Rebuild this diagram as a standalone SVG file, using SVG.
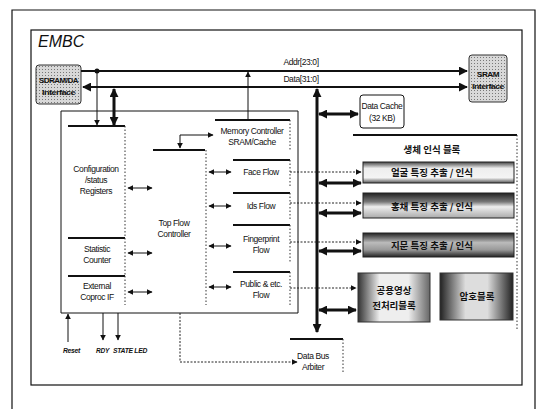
<svg xmlns="http://www.w3.org/2000/svg" width="537" height="409" viewBox="0 0 537 409">
<defs>
<style>
.t{font-family:"Liberation Sans",Arial,sans-serif;font-size:8.5px;letter-spacing:-0.4px;fill:#111;text-anchor:middle}
.tb{font-family:"Liberation Sans",Arial,sans-serif;font-size:8px;letter-spacing:-0.5px;font-weight:bold;fill:#111;text-anchor:middle}
.ti{font-family:"Liberation Sans",Arial,sans-serif;font-size:7px;letter-spacing:-0.3px;font-style:italic;font-weight:bold;fill:#111;text-anchor:start}
.k{font-family:"Noto Sans CJK KR",sans-serif;font-weight:bold;font-size:9.5px;fill:#111;text-anchor:middle}
.frame{fill:none;stroke:#111;stroke-width:1.2}
.top{stroke:#111;stroke-width:1.8;fill:none}
.dot{stroke:#333;stroke-width:1;stroke-dasharray:1.5 2;fill:none}
.thin{stroke:#111;stroke-width:1;fill:none}
.bus{stroke:#111;stroke-width:2.2;fill:none}
.thick{stroke:#111;stroke-width:3;fill:none}
.dash{stroke:#222;stroke-width:1;stroke-dasharray:2 1.5;fill:none}
</style>
<marker id="a" viewBox="0 0 10 10" refX="9" refY="5" markerWidth="6" markerHeight="6" markerUnits="userSpaceOnUse" orient="auto-start-reverse"><path d="M0,0L10,5L0,10z" fill="#111"/></marker>
<marker id="ab" viewBox="0 0 10 10" refX="9" refY="5" markerWidth="9" markerHeight="9" markerUnits="userSpaceOnUse" orient="auto-start-reverse"><path d="M0,0L10,5L0,10z" fill="#111"/></marker>
<pattern id="halftone" width="3" height="3" patternUnits="userSpaceOnUse"><rect width="3" height="3" fill="#d8d8d8"/><rect width="1" height="1" fill="#777"/></pattern>
<linearGradient id="g1" x1="0" y1="0" x2="0" y2="1"><stop offset="0" stop-color="#444"/><stop offset="0.3" stop-color="#eee"/><stop offset="0.75" stop-color="#f4f4f4"/><stop offset="1" stop-color="#555"/></linearGradient>
<linearGradient id="g2" x1="0" y1="0" x2="0" y2="1"><stop offset="0" stop-color="#222"/><stop offset="0.35" stop-color="#777"/><stop offset="0.55" stop-color="#eee"/><stop offset="1" stop-color="#aaa"/></linearGradient>
<linearGradient id="g3" x1="0" y1="0" x2="0" y2="1"><stop offset="0" stop-color="#222"/><stop offset="0.4" stop-color="#bbb"/><stop offset="0.7" stop-color="#999"/><stop offset="1" stop-color="#222"/></linearGradient>
<linearGradient id="g4" x1="0" y1="0" x2="1" y2="0"><stop offset="0" stop-color="#333"/><stop offset="0.3" stop-color="#eee"/><stop offset="0.7" stop-color="#eee"/><stop offset="1" stop-color="#666"/></linearGradient>
<linearGradient id="g5" x1="0" y1="0" x2="1" y2="0"><stop offset="0" stop-color="#222"/><stop offset="0.35" stop-color="#ddd"/><stop offset="0.65" stop-color="#ddd"/><stop offset="1" stop-color="#222"/></linearGradient>
</defs>
<rect width="537" height="409" fill="#fff"/>
<g id="outer-frame"><path class="frame" d="M12,420V10H535V420"/></g>
<g id="embc"><rect class="frame" x="31" y="30" width="491" height="355"/><text x="38" y="47" font-family="Liberation Sans,Arial,sans-serif" font-size="16" font-style="italic" fill="#111">EMBC</text></g>

<g id="sdram"><rect x="36" y="65" width="45" height="39" rx="3" fill="url(#halftone)" stroke="#333" stroke-width="1"/><text class="tb" x="58.5" y="83" textLength="39" lengthAdjust="spacingAndGlyphs">SDRAM/DA</text><text class="tb" x="58.5" y="95" textLength="33" lengthAdjust="spacingAndGlyphs">Interface</text></g>
<g id="sram"><rect x="469" y="55" width="38" height="47" rx="3" fill="url(#halftone)" stroke="#333" stroke-width="1"/><text class="tb" x="488" y="77" textLength="22" lengthAdjust="spacingAndGlyphs">SRAM</text><text class="tb" x="488" y="89" textLength="32" lengthAdjust="spacingAndGlyphs">Interface</text></g>
<g id="data-cache"><rect x="360" y="95" width="44" height="33" rx="3" fill="#fff" stroke="#111" stroke-width="1"/><text class="t" x="382" y="109">Data Cache</text><text class="t" x="382" y="121">(32 KB)</text></g>

<g id="main-block"><path class="thin" d="M61,111H298V313H61Z" stroke-width="1.3"/></g>
<g id="config"><path class="top" d="M68,126H125"/><path class="dot" d="M125,126V238"/><text class="t" x="96" y="172">Configuration</text><text class="t" x="96" y="183">/status</text><text class="t" x="96" y="194">Registers</text></g>
<g id="statistic"><path class="top" d="M68,238H125"/><path class="dot" d="M125,238V275"/><text class="t" x="97" y="252">Statistic</text><text class="t" x="97" y="263">Counter</text></g>
<g id="coproc"><path class="top" d="M68,276H125"/><path class="dot" d="M125,276V305"/><text class="t" x="97" y="289">External</text><text class="t" x="97" y="300">Coproc IF</text></g>
<g id="top-flow"><path class="top" d="M153,150H205"/><path class="dot" d="M206,150V305"/><text class="t" x="174" y="226">Top Flow</text><text class="t" x="174" y="237">Controller</text></g>
<g id="memctrl"><path class="top" d="M215,120H290"/><path class="dot" d="M290,120V150"/><text class="t" x="252" y="134">Memory Controller</text><text class="t" x="252" y="145">SRAM/Cache</text></g>
<g id="face-flow"><path class="top" d="M233,160H290"/><path class="dot" d="M290,160V188"/><text class="t" x="261" y="175">Face Flow</text></g>
<g id="ids-flow"><path class="top" d="M233,193H290"/><path class="dot" d="M290,193V220"/><text class="t" x="261" y="209">Ids Flow</text></g>
<g id="fingerprint-flow"><path class="top" d="M233,225H290"/><path class="dot" d="M290,225V262"/><text class="t" x="261" y="242">Fingerprint</text><text class="t" x="261" y="253">Flow</text></g>
<g id="public-flow"><path class="top" d="M233,272H290"/><path class="dot" d="M290,272V305"/><text class="t" x="261" y="287">Public &amp; etc.</text><text class="t" x="261" y="298">Flow</text></g>
<g id="arbiter"><path class="top" d="M290,339H343"/><path class="dot" d="M343,339V373"/><text class="t" x="313" y="359">Data Bus</text><text class="t" x="313" y="370">Arbiter</text></g>

<g id="bio-block"><path class="top" d="M353,135H517"/><path class="dot" d="M517,135V330"/><text class="k" x="432" y="153" font-size="12.5">생체 인식 블록</text></g>
<g id="face-rec"><rect x="363" y="162" width="151" height="21" fill="url(#g1)" stroke="#222" stroke-width="1"/><text class="k" x="432" y="176">얼굴 특징 추출 / 인식</text></g>
<g id="iris-rec"><rect x="363" y="193" width="151" height="25" fill="url(#g2)" stroke="#222" stroke-width="1"/><text class="k" x="432" y="210">홍채 특징 추출 / 인식</text></g>
<g id="finger-rec"><rect x="363" y="233" width="151" height="24" fill="url(#g3)" stroke="#222" stroke-width="1"/><text class="k" x="432" y="249">지문 특징 추출 / 인식</text></g>
<g id="preproc"><rect x="358" y="273" width="72" height="49" fill="url(#g4)" stroke="#333" stroke-width="1"/><text class="k" x="394" y="294" font-size="9">공용영상</text><text class="k" x="394" y="309" font-size="9">전처리블록</text></g>
<g id="crypto"><rect x="440" y="273" width="73" height="47" fill="url(#g5)" stroke="#333" stroke-width="1"/><text class="k" x="477" y="300">암호블록</text></g>

<g id="connectors">
<path class="bus" d="M81,71H467" marker-end="url(#ab)"/>
<text class="t" x="301" y="65">Addr[23:0]</text>
<path class="bus" d="M83,87H467" marker-start="url(#ab)" marker-end="url(#ab)"/>
<text class="t" x="301" y="82">Data[31:0]</text>
<circle cx="97" cy="71" r="2.5" fill="#111"/>
<path class="thin" d="M97,71V125" marker-end="url(#a)"/>
<path class="thick" d="M114,89V125" marker-start="url(#ab)" marker-end="url(#ab)"/>
<path class="thin" d="M248,119V72" marker-end="url(#a)"/>
<path class="thick" d="M317,89V332" stroke="#333" marker-start="url(#ab)" marker-end="url(#ab)"/>
<path class="thick" d="M319,114H358" marker-start="url(#ab)" marker-end="url(#ab)"/>
<path class="thin" d="M180,148V135H213" marker-start="url(#a)" marker-end="url(#a)"/>
<path class="thin" d="M128,188H152" marker-start="url(#a)" marker-end="url(#a)"/>
<path class="thin" d="M128,253H152" marker-start="url(#a)" marker-end="url(#a)"/>
<path class="thin" d="M128,292H152" marker-start="url(#a)" marker-end="url(#a)"/>
<path class="thin" d="M209,172H231" marker-start="url(#a)" marker-end="url(#a)"/>
<path class="thin" d="M209,206H231" marker-start="url(#a)" marker-end="url(#a)"/>
<path class="thin" d="M209,246H231" marker-start="url(#a)" marker-end="url(#a)"/>
<path class="thin" d="M209,287H231" marker-start="url(#a)" marker-end="url(#a)"/>
<path class="dash" d="M290,172H361" marker-end="url(#a)"/>
<path class="dash" d="M290,203H361" marker-end="url(#a)"/>
<path class="dash" d="M290,242H361" marker-end="url(#a)"/>
<path class="dash" d="M290,288H356" marker-end="url(#a)"/>
<path class="thick" d="M319,183H361" marker-start="url(#ab)" marker-end="url(#ab)"/>
<path class="thick" d="M319,213H361" marker-start="url(#ab)" marker-end="url(#ab)"/>
<path class="thick" d="M319,251H361" marker-start="url(#ab)" marker-end="url(#ab)"/>
<path class="thick" d="M319,310H356" marker-start="url(#ab)" marker-end="url(#ab)"/>
<path class="thin" d="M68,342V314" marker-end="url(#a)"/>
<path class="thin" d="M103,313V340" marker-end="url(#a)"/>
<path class="thin" d="M118,313V340" marker-end="url(#a)"/>
<path class="dash" d="M180,313V362H297" marker-end="url(#a)"/>
<text class="ti" x="63" y="353" textLength="17" lengthAdjust="spacingAndGlyphs">Reset</text>
<text class="ti" x="96" y="353" textLength="13" lengthAdjust="spacingAndGlyphs">RDY</text>
<text class="ti" x="113" y="353" textLength="34" lengthAdjust="spacingAndGlyphs">STATE LED</text>
</g>
</svg>
